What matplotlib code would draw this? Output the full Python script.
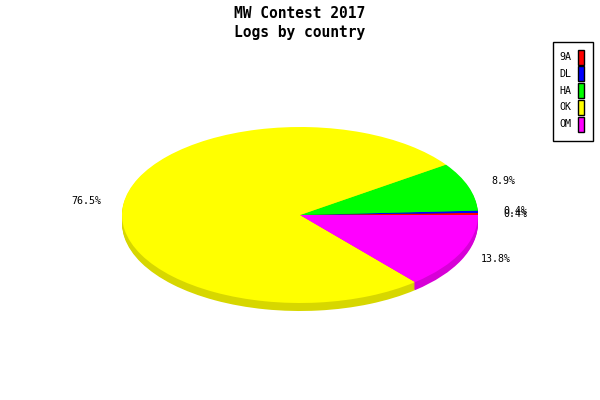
import numpy as np
import matplotlib
matplotlib.use("Agg")
import matplotlib.pyplot as plt
from matplotlib.patches import Wedge, Rectangle
from matplotlib.transforms import Affine2D

countries = ["9A", "DL", "HA", "OK", "OM"]
shares = [0.4, 0.4, 8.9, 76.5, 13.8]
colors = ["#ff0000", "#0000ff", "#00ff00", "#ffff00", "#ff00ff"]
shade = ["#d20000", "#0000d2", "#00d200", "#d7d700", "#d700d7"]

cx, cy = 300, 215
rx, ry = 178, 88
depth = 8

fig = plt.figure(figsize=(6, 4), dpi=100)
ax = fig.add_axes([0, 0, 1, 1])
ax.set_xlim(0, 600)
ax.set_ylim(400, 0)
ax.axis("off")

vals = np.array(shares)
edges = np.concatenate([[0], np.cumsum(vals) / vals.sum() * 360])

def ell(dy):
    return Affine2D().scale(rx, -ry).translate(cx, cy + dy) + ax.transData

# side of the pie, drawn as stacked darker copies
for dy in range(depth, 0, -1):
    for i in range(len(vals)):
        w = Wedge((0, 0), 1, edges[i], edges[i + 1], facecolor=shade[i],
                  edgecolor="none", transform=ell(dy))
        ax.add_patch(w)

for i in range(len(vals)):
    w = Wedge((0, 0), 1, edges[i], edges[i + 1], facecolor=colors[i],
              edgecolor="none", transform=ell(0))
    ax.add_patch(w)

# percentage labels
for i in range(len(vals)):
    mid = np.deg2rad((edges[i] + edges[i + 1]) / 2)
    lx = cx + 1.21 * rx * np.cos(mid)
    ly = cy - 1.2 * ry * np.sin(mid)
    ax.text(lx, ly, "%.1f%%" % shares[i], ha="center", va="center",
            family="DejaVu Sans Mono", fontsize=7.2)

ax.text(300, 13, "MW Contest 2017", ha="center", va="center",
        family="DejaVu Sans Mono", fontsize=10.5, fontweight="bold")
ax.text(300, 32, "Logs by country", ha="center", va="center",
        family="DejaVu Sans Mono", fontsize=10.5, fontweight="bold")

# legend box
ax.add_patch(Rectangle((553, 42), 40, 99, facecolor="white", edgecolor="black", lw=1))
for i, name in enumerate(countries):
    y = 57 + i * 16.8
    ax.text(565, y, name, ha="center", va="center",
            family="DejaVu Sans Mono", fontsize=7.2)
    ax.add_patch(Rectangle((578, y - 7.5), 6, 15, facecolor=colors[i],
                           edgecolor="black", lw=1))

fig.savefig("out.png", dpi=100)
